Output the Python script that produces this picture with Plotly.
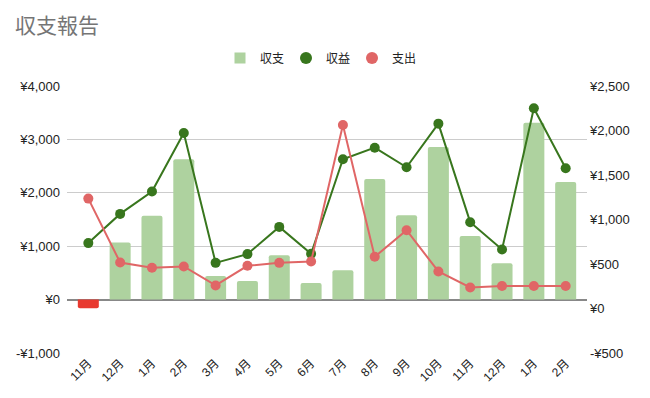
import plotly.graph_objects as go

months = ["11月", "12月", "1月", "2月", "3月", "4月", "5月", "6月",
          "7月", "8月", "9月", "10月", "11月", "12月", "1月", "2月"]
balance = [-160, 1070, 1570, 2630, 440, 350, 830, 310,
           550, 2260, 1580, 2860, 1190, 680, 3310, 2200]
income = [735, 1063, 1314, 1972, 513, 611, 917, 614,
          1677, 1807, 1587, 2077, 970, 663, 2250, 1576]
expense = [1235, 517, 457, 472, 259, 480, 513, 528,
           2062, 581, 880, 416, 236, 252, 252, 252]

left_ticks = [-1000, 0, 1000, 2000, 3000, 4000]
left_text = ["-¥1,000", "¥0", "¥1,000", "¥2,000", "¥3,000", "¥4,000"]
right_ticks = [-500, 0, 500, 1000, 1500, 2000, 2500]
right_text = ["-¥500", "¥0", "¥500", "¥1,000", "¥1,500", "¥2,000", "¥2,500"]

GREEN_BAR = "#aed29f"
NEG_BAR = "#e8392f"
DARK_GREEN = "#38761d"
RED = "#e06666"
FONT = "Arial, Liberation Sans, Noto Sans CJK JP, sans-serif"

x = list(range(len(months)))
bar_colors = [NEG_BAR if v < 0 else GREEN_BAR for v in balance]

fig = go.Figure()
fig.add_trace(go.Bar(x=x, y=balance, marker=dict(color=bar_colors, line=dict(width=0)),
                     name="収支", showlegend=False, yaxis="y"))
fig.add_trace(go.Scatter(x=x, y=income, mode="lines+markers", name="収益",
                         line=dict(color=DARK_GREEN, width=2),
                         marker=dict(size=10, color=DARK_GREEN),
                         showlegend=False, yaxis="y2"))
fig.add_trace(go.Scatter(x=x, y=expense, mode="lines+markers", name="支出",
                         line=dict(color=RED, width=2),
                         marker=dict(size=10, color=RED),
                         showlegend=False, yaxis="y2"))
# legend entries
fig.add_trace(go.Scatter(x=[None], y=[None], mode="markers", name="収支",
                         marker=dict(symbol="square", size=11, color=GREEN_BAR)))
fig.add_trace(go.Scatter(x=[None], y=[None], mode="markers", name="収益",
                         marker=dict(size=12, color=DARK_GREEN)))
fig.add_trace(go.Scatter(x=[None], y=[None], mode="markers", name="支出",
                         marker=dict(size=12, color=RED)))

fig.update_layout(
    width=650, height=398,
    margin=dict(l=67, r=63, t=86, b=45),
    paper_bgcolor="white", plot_bgcolor="white",
    font=dict(family=FONT, size=12, color="#222222"),
    title=dict(text="収支報告", x=15 / 650, xref="container", xanchor="left",
               y=1 - 26 / 398, yref="container", yanchor="middle",
               font=dict(size=21, color="#757575", family=FONT)),
    showlegend=True,
    legend=dict(orientation="h", x=0.5 - 8 / 520, xanchor="center", y=1.105,
                yanchor="middle", font=dict(size=12, color="#222222"), itemwidth=30,
                entrywidth=21, entrywidthmode="pixels",
                bgcolor="rgba(0,0,0,0)"),
    bargap=0.34,
    barcornerradius=2,
    hovermode=False,
    xaxis=dict(range=[-0.67, len(months) - 1 + 0.67], tickmode="array",
               tickvals=x, ticktext=months, tickangle=-45, showgrid=False,
               zeroline=False, showline=False, ticks="",
               tickfont=dict(size=12, color="#222222")),
    yaxis=dict(range=[-1000, 4000], tickmode="array", tickvals=left_ticks,
               ticktext=left_text, showgrid=True, gridcolor="#cccccc", gridwidth=1,
               zeroline=True, zerolinecolor="#888888", zerolinewidth=2,
               showline=False, ticks="", ticklabelstandoff=6,
               tickfont=dict(size=13, color="#222222")),
    yaxis2=dict(range=[-500, 2500], tickmode="array", tickvals=right_ticks,
                ticktext=right_text, overlaying="y", side="right", showgrid=False,
                zeroline=False, showline=False, ticks="", ticklabelstandoff=2,
                tickfont=dict(size=13, color="#222222")),
)

fig.write_html("out.html", config={"displayModeBar": False},
               post_script="document.body.style.margin='0';")
